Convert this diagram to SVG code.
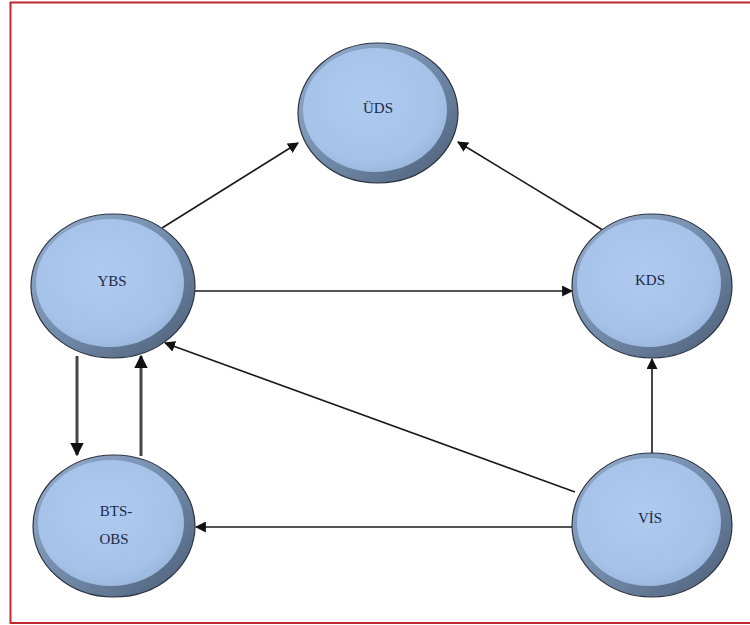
<svg xmlns="http://www.w3.org/2000/svg" width="750" height="625" viewBox="0 0 750 625">
<style>
.lbl{font-family:"Liberation Serif","Times New Roman",serif;font-size:15px;fill:#1c2a48;text-anchor:middle}
.c{stroke:#1a1a1a;stroke-width:1.6;fill:none;marker-end:url(#ah)}
.cv{stroke:#454545;stroke-width:3;fill:none;marker-end:url(#ahv)}
.rim{fill:url(#rimg);stroke:#2e3440;stroke-width:1.2}
.face{fill:url(#faceg)}
</style>
<defs>
<linearGradient id="rimg" x1="0" y1="0" x2="1" y2="1">
<stop offset="0" stop-color="#97b0d2"/>
<stop offset="0.55" stop-color="#6f87a6"/>
<stop offset="1" stop-color="#4b5d75"/>
</linearGradient>
<radialGradient id="faceg" cx="0.45" cy="0.42" r="0.6">
<stop offset="0" stop-color="#aecaf0"/>
<stop offset="0.8" stop-color="#a7c2e8"/>
<stop offset="1" stop-color="#9cb7dd"/>
</radialGradient>
<marker id="ah" viewBox="0 0 10 10" refX="9" refY="5" markerWidth="11" markerHeight="11" markerUnits="userSpaceOnUse" orient="auto">
<path d="M0,0 L10,5 L0,10 z" fill="#111"/>
</marker>
<marker id="ahv" viewBox="0 0 10 10" refX="9" refY="5" markerWidth="4.5" markerHeight="4.5" orient="auto">
<path d="M0,0 L10,5 L0,10 z" fill="#111"/>
</marker>
</defs>
<rect x="0" y="0" width="750" height="625" fill="#ffffff"/>
<rect x="10.5" y="2.5" width="745" height="620.5" fill="none" stroke="#c0282d" stroke-width="2"/>
<g id="connectors">
<line class="c" x1="162" y1="228" x2="298" y2="143"/>
<line class="c" x1="606" y1="232" x2="458" y2="142"/>
<line class="c" x1="195" y1="291" x2="572" y2="291"/>
<line class="c" x1="575" y1="492" x2="165" y2="343"/>
<line class="c" x1="572" y1="527" x2="196" y2="527"/>
<line class="c" x1="652" y1="453" x2="652" y2="359"/>
<line class="cv" x1="77" y1="356" x2="77" y2="455"/>
<line class="cv" x1="141" y1="456" x2="141" y2="356"/>
</g>
<g id="UDS">
<ellipse class="rim" cx="378" cy="113" rx="80" ry="70"/>
<ellipse class="face" cx="375" cy="110" rx="72" ry="62"/>
<text class="lbl" x="378" y="113">ÜDS</text>
</g>
<g id="YBS">
<ellipse class="rim" cx="113" cy="286" rx="82" ry="72"/>
<ellipse class="face" cx="110" cy="283" rx="74" ry="64"/>
<text class="lbl" x="112" y="286">YBS</text>
</g>
<g id="KDS">
<ellipse class="rim" cx="652" cy="286" rx="80" ry="72"/>
<ellipse class="face" cx="649" cy="283" rx="72" ry="64"/>
<text class="lbl" x="650" y="285">KDS</text>
</g>
<g id="BTS-OBS">
<ellipse class="rim" cx="114" cy="526" rx="81" ry="71"/>
<ellipse class="face" cx="111" cy="523" rx="73" ry="63"/>
<text class="lbl" x="116" y="516">BTS-</text>
<text class="lbl" x="114" y="544">OBS</text>
</g>
<g id="VIS">
<ellipse class="rim" cx="652" cy="525" rx="80" ry="72"/>
<ellipse class="face" cx="649" cy="522" rx="72" ry="64"/>
<text class="lbl" x="650" y="523">VİS</text>
</g>
</svg>
